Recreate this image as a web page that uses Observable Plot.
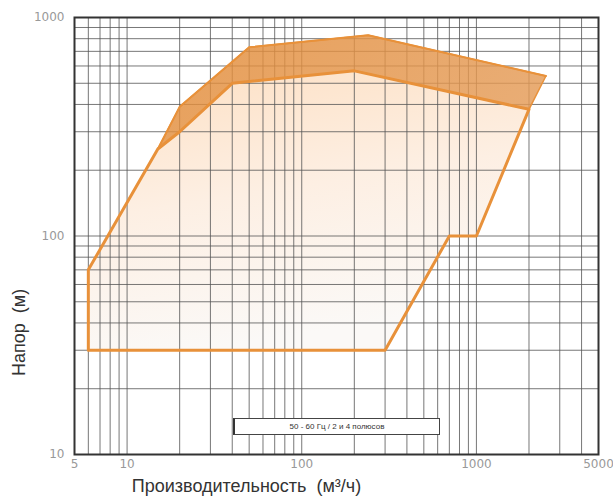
<!DOCTYPE html>
<html>
<head>
<meta charset="utf-8">
<script src="https://cdn.jsdelivr.net/npm/d3@7"></script>
<script src="https://cdn.jsdelivr.net/npm/@observablehq/plot@0.6"></script>
<style>
  body { margin: 0; background: #fff; }
  #wrap { position: relative; width: 613px; height: 503px; font-family: "Liberation Sans", Arial, sans-serif; }
  #legend { position: absolute; left: 233px; top: 418px; width: 204px; height: 15px;
    border: 1px solid #444; border-left: 2px solid #333; background: #fff; font-size: 8px; color: #333;
    line-height: 15px; text-align: center; box-sizing: content-box; }
</style>
</head>
<body>
<div id="wrap"></div>
<script>
// Axis ticks
const xTicks = [5, 10, 100, 1000, 5000];
const yTicks = [10, 100, 1000];
// Log grid lines
const xGrid = [6, 7, 8, 9, 10, 20, 30, 40, 50, 60, 70, 80, 90, 100, 200, 300, 400, 500, 600, 700, 800, 900, 1000, 2000, 3000, 4000];
const yGrid = [20, 30, 40, 50, 60, 70, 80, 90, 100, 200, 300, 400, 500, 600, 700, 800, 900];

// Outer envelope of the working field (flow m³/h, head m)
const outerQ = [6, 6, 15, 20, 40, 200, 2000, 1000, 700, 300];
const outerH = [30, 70, 250, 300, 500, 570, 380, 100, 100, 30];

// Upper band (60 Hz curve) and lower band (50 Hz curve)
const upperQ = [15, 20, 50, 240, 2500];
const upperH = [250, 390, 730, 830, 540];
const lowerQ = [15, 20, 40, 200, 2000];
const lowerH = [250, 300, 500, 570, 380];

const legendText = "50 - 60 Гц / 2 и 4 полюсов";
const xLabel = "Производительность  (м³/ч)";
const yLabel = "Напор  (м)";

const outer = outerQ.map((q, i) => ({q, h: outerH[i]}));
const upper = upperQ.map((q, i) => ({q, h: upperH[i]}));
const band = upper.concat(lowerQ.map((q, i) => ({q, h: lowerH[i]})).reverse());

const defs = () => {
  const ns = "http://www.w3.org/2000/svg";
  const d = document.createElementNS(ns, "defs");
  d.innerHTML = `
    <linearGradient id="lightFill" x1="0" y1="0" x2="0.25" y2="1">
      <stop offset="0" stop-color="#fde0c4"/>
      <stop offset="0.5" stop-color="#fdefe3"/>
      <stop offset="1" stop-color="#fbf9f7"/>
    </linearGradient>
    <linearGradient id="bandFill" x1="0" y1="0" x2="1" y2="0.3">
      <stop offset="0" stop-color="#e28a35"/>
      <stop offset="1" stop-color="#e49a55"/>
    </linearGradient>`;
  return d;
};

const fmt = d => String(d);

const chart = Plot.plot({
  width: 613,
  height: 503,
  marginLeft: 74,
  marginRight: 15,
  marginTop: 17,
  marginBottom: 49,
  style: {fontFamily: "'Liberation Sans', Arial, sans-serif", fontSize: "10px", background: "#fff", overflow: "visible"},
  x: {type: "log", domain: [5, 5000], axis: null},
  y: {type: "log", domain: [10, 1000], axis: null},
  marks: [
    defs,
    Plot.line(outer, {x: "q", y: "h", curve: "linear-closed", fill: "url(#lightFill)", stroke: "none"}),
    Plot.ruleX(xGrid, {stroke: "#555", strokeWidth: 1, strokeOpacity: 0.8}),
    Plot.ruleY(yGrid, {stroke: "#555", strokeWidth: 1, strokeOpacity: 0.8}),
    Plot.line(band, {x: "q", y: "h", curve: "linear-closed", fill: "url(#bandFill)", fillOpacity: 0.82, stroke: "#e8913a", strokeWidth: 1.5}),
    Plot.line(outer, {x: "q", y: "h", curve: "linear-closed", stroke: "#e8913a", strokeWidth: 3, strokeLinejoin: "round"}),
    Plot.line(upper, {x: "q", y: "h", stroke: "#e8913a", strokeWidth: 2}),
    Plot.frame({stroke: "#333", strokeWidth: 2}),
    Plot.text(xTicks, {x: d => d, frameAnchor: "bottom", dy: 13, text: fmt, fill: "#999", fontSize: 12, fontFamily: "DejaVu Sans"}),
    Plot.text(yTicks, {y: d => d, frameAnchor: "left", dx: -10, textAnchor: "end", text: fmt, fill: "#999", fontSize: 12, fontFamily: "DejaVu Sans"}),
    Plot.text([xLabel], {frameAnchor: "bottom", dx: -90, dy: 37, fontSize: 18, fill: "#333"}),
    Plot.text([yLabel], {frameAnchor: "left", rotate: -90, dx: -55, dy: 140, fontSize: 18, fill: "#333"})
  ]
});

const wrap = document.getElementById("wrap");
wrap.appendChild(chart);
const lg = document.createElement("div");
lg.id = "legend";
lg.textContent = legendText;
wrap.appendChild(lg);
</script>
</body>
</html>
